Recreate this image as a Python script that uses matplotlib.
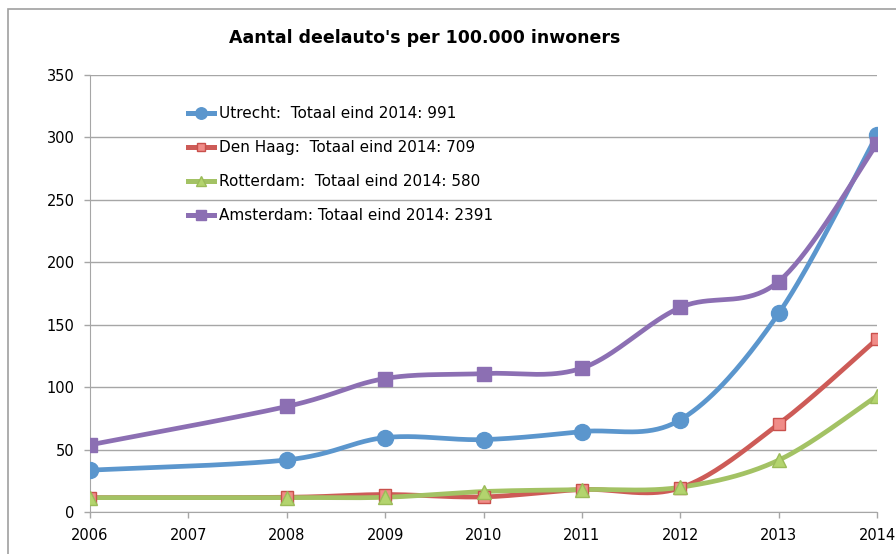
import numpy as np
import matplotlib.pyplot as plt
from matplotlib.patches import Rectangle

years = [2006, 2008, 2009, 2010, 2011, 2012, 2013, 2014]
utrecht = [33.5, 41.7, 59.6, 58, 64.4, 73.8, 159, 302]
den_haag = [11.5, 11.8, 14, 12.1, 18, 19.3, 70.4, 138.5]
rotterdam = [11.5, 11.6, 11.8, 16.4, 18, 19.8, 41.5, 93]
amsterdam = [53.8, 84.5, 106.9, 110.9, 115.2, 163.8, 184.6, 295]

labels = ['Utrecht:  Totaal eind 2014: 991',
          'Den Haag:  Totaal eind 2014: 709',
          'Rotterdam:  Totaal eind 2014: 580',
          'Amsterdam: Totaal eind 2014: 2391']


def smooth(xs, ys, n=40):
    # bezier segments with catmull-rom style control points (like excel smoothed lines)
    p = np.column_stack([xs, ys]).astype(float)
    ext = np.vstack([p[0], p, p[-1]])
    out = []
    t = np.linspace(0, 1, n)[:, None]
    for i in range(len(p) - 1):
        p0, p1 = ext[i + 1], ext[i + 2]
        c1 = p0 + (ext[i + 2] - ext[i]) / 6
        c2 = p1 - (ext[i + 3] - ext[i + 1]) / 6
        seg = ((1 - t) ** 3) * p0 + 3 * ((1 - t) ** 2) * t * c1 + 3 * (1 - t) * t ** 2 * c2 + t ** 3 * p1
        out.append(seg)
    out = np.vstack(out)
    return out[:, 0], out[:, 1]


fig = plt.figure(figsize=(8.96, 5.54), dpi=100)
ax = fig.add_axes([90 / 896, 1 - 512 / 554, (877 - 90) / 896, (512 - 75) / 554])

styles = [
    dict(color='#5b96cd', marker='o', ms=11.5, mfc='#5b96cd', mec='#5b96cd'),
    dict(color='#cd5b57', marker='s', ms=8.5, mfc='#f08c88', mec='#c9504c'),
    dict(color='#a3c264', marker='^', ms=9.5, mfc='#b3d46e', mec='#9bbb59'),
    dict(color='#8c6fb3', marker='s', ms=10, mfc='#8c6fb3', mec='#8c6fb3'),
]

for ys, lab, st in zip([utrecht, den_haag, rotterdam, amsterdam], labels, styles):
    sx, sy = smooth(years, ys)
    ax.plot(sx, sy, color=st['color'], lw=3.4, solid_capstyle='round', zorder=3)
    ax.plot(years, ys, ls='none', marker=st['marker'], ms=st['ms'],
            mfc=st['mfc'], mec=st['mec'], mew=1, zorder=4)
    ax.plot([], [], color=st['color'], lw=3.6, marker=st['marker'], ms=st['ms'] * 0.72,
            mfc=st['mfc'], mec=st['mec'], label=lab)

ax.set_xlim(2006, 2014)
ax.set_ylim(0, 350)
ax.set_xticks(range(2006, 2015))
ax.set_yticks(range(0, 351, 50))
ax.yaxis.grid(True, color='#a6a6a6', lw=1)
ax.set_axisbelow(True)
for s in ['top', 'right']:
    ax.spines[s].set_visible(False)
for s in ['left', 'bottom']:
    ax.spines[s].set_color('#a6a6a6')
ax.tick_params(axis='both', colors='#a6a6a6', labelcolor='black', labelsize=10.5, length=4, width=1)
ax.tick_params(axis='x', pad=7.5)
ax.tick_params(axis='y', pad=7)

fig.text(425 / 896, 1 - 38 / 554, "Aantal deelauto's per 100.000 inwoners",
         ha='center', va='center', fontsize=12.5, fontweight='bold')

ax.legend(loc='upper left', bbox_to_anchor=(188 / 896, 1 - 106 / 554),
          bbox_transform=fig.transFigure, frameon=False, fontsize=11,
          handlelength=1.7, handletextpad=0.35, labelspacing=1.25, borderpad=0, borderaxespad=0)

fig.patches.append(Rectangle((8 / 896, -0.1), 1.1, 1 - 9 / 554 + 0.1, transform=fig.transFigure,
                             fill=False, ec='#a0a0a0', lw=1.2))

fig.savefig('out.png', dpi=100)
